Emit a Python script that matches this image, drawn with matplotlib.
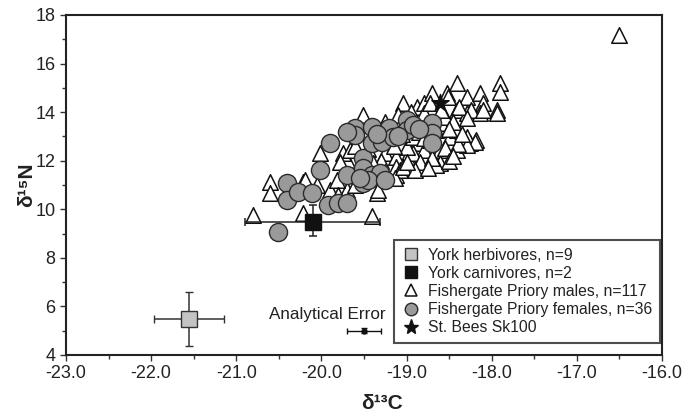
import matplotlib
matplotlib.use("Agg")
import matplotlib.pyplot as plt
from matplotlib.ticker import MultipleLocator, FormatStrFormatter
from matplotlib.lines import Line2D

plt.rcParams['font.family'] = ['Liberation Sans', 'DejaVu Sans']

# Fishergate Priory males (d13C, d15N)
male_c = [-20.80, -20.22, -19.41, -20.60, -20.60, -20.22, -20.02, -19.90, -19.70, -19.70,
          -19.35, -19.51, -19.75, -19.82, -19.12, -19.25, -19.04, -18.88, -18.80, -18.70,
          -18.41, -18.53, -18.29, -18.14, -18.10, -17.90, -17.90, -17.94, -18.41, -18.29,
          -18.14, -18.61, -18.41, -18.25, -18.18, -18.61, -18.88, -18.80, -19.00, -19.12,
          -19.12, -18.49, -18.80, -18.76, -18.51, -18.24, -18.10, -17.94, -18.39, -18.29,
          -18.72, -18.41, -18.29, -18.20, -18.72, -18.92, -18.59, -18.29, -18.55, -18.84,
          -19.08, -19.14, -19.31, -19.21, -19.66, -19.78, -19.04, -20.19, -19.33, -19.00,
          -18.92, -18.65, -19.35, -19.25, -19.10, -18.95, -18.85, -19.05, -19.30, -19.45,
          -19.60, -19.40, -18.70, -18.50, -18.40, -18.65, -18.55, -18.45, -18.90, -18.75,
          -19.20, -19.55, -19.60, -19.80, -20.05, -18.35, -19.45, -18.95, -18.60, -18.50,
          -19.15, -18.80, -19.00, -18.45, -19.25, -16.50]
male_n = [9.76, 9.85, 9.72, 11.13, 10.66, 11.13, 12.32, 10.79, 12.03, 10.79,
          10.66, 13.88, 12.30, 11.20, 11.41, 12.30, 14.36, 14.22, 14.36, 14.77,
          15.19, 14.77, 14.63, 14.77, 14.36, 15.19, 14.84, 14.09, 14.09, 13.95,
          13.95, 12.44, 12.44, 12.72, 12.85, 11.89, 12.72, 12.44, 12.16, 12.16,
          11.75, 12.99, 13.95, 13.54, 14.63, 14.09, 14.09, 13.95, 14.22, 13.74,
          14.36, 13.26, 12.99, 12.78, 12.85, 12.30, 13.54, 12.65, 12.51, 11.96,
          11.62, 11.27, 11.27, 12.85, 12.44, 11.96, 11.75, 11.20, 10.79, 12.58,
          12.99, 11.82, 12.90, 13.60, 13.90, 13.70, 13.20, 13.10, 12.00, 12.50,
          12.60, 11.90, 12.10, 12.00, 12.70, 13.25, 13.80, 13.60, 11.60, 11.70,
          13.30, 11.70, 11.00, 10.60, 11.00, 13.10, 13.20, 14.00, 14.10, 13.30,
          12.60, 12.95, 11.95, 12.20, 11.55, 17.17]

# Fishergate Priory females
fem_c = [-19.90, -20.02, -20.41, -20.41, -20.27, -20.11, -19.92, -19.80, -19.70, -20.51,
         -19.70, -19.51, -19.51, -19.51, -19.41, -19.31, -19.61, -19.61, -19.41, -19.41,
         -19.29, -19.21, -19.16, -19.00, -19.00, -18.92, -18.70, -18.70, -18.70, -19.45,
         -19.55, -19.35, -19.70, -19.10, -19.25, -18.85]
fem_n = [12.72, 11.62, 11.07, 10.38, 10.72, 10.68, 10.18, 10.27, 10.27, 9.08,
         11.41, 12.10, 11.69, 11.07, 11.41, 11.48, 13.33, 13.06, 13.40, 12.72,
         12.78, 13.33, 12.99, 13.67, 13.26, 13.47, 13.54, 13.13, 12.72, 11.20,
         11.30, 13.10, 13.20, 13.00, 11.20, 13.30]

# York fauna means with 1 sd
herb_c, herb_n, herb_sc, herb_sn = -21.56, 5.48, 0.41, 1.1
carn_c, carn_n = -20.10, 9.48
carn_xerr = [[0.80], [0.79]]
carn_yerr = [[0.58], [0.69]]

star_c, star_n = -18.61, 14.37

# analytical error marker
ae_c, ae_n, ae_sc, ae_sn = -19.5, 5.0, 0.2, 0.1

fig = plt.figure(figsize=(6.85, 4.2), dpi=100)
ax = fig.add_axes([0.0964, 0.1548, 0.87, 0.8095])

ax.scatter(male_c, male_n, marker='^', s=125, facecolor='white', edgecolor='#111111',
           linewidth=1.1, zorder=3)
ax.scatter(fem_c, fem_n, marker='o', s=170, facecolor='#9a9a9a', edgecolor='#2a2a2a',
           linewidth=1.0, zorder=4)

ax.errorbar(carn_c, carn_n, xerr=carn_xerr, yerr=carn_yerr, fmt='s', ms=11,
            mfc='#111111', mec='#111111', ecolor='#222222', elinewidth=1.1,
            capsize=3, capthick=1.1, zorder=5)
ax.errorbar(herb_c, herb_n, xerr=herb_sc, yerr=herb_sn, fmt='s', ms=11,
            mfc='#c4c4c4', mec='#333333', mew=1.0, ecolor='#333333', elinewidth=1.1,
            capsize=3, capthick=1.1, zorder=5)
ax.scatter([star_c], [star_n], marker='*', s=170, color='#111111', zorder=6)

ax.errorbar(ae_c, ae_n, xerr=ae_sc, yerr=ae_sn, fmt='o', ms=3.5, color='#111111',
            elinewidth=1.0, capsize=2.5, capthick=1.0, zorder=5)
ax.text(ae_c + 0.25, ae_n + 0.68, 'Analytical Error', ha='right', va='center',
        fontsize=12.3, color='#222222')

ax.set_xlim(-23, -16)
ax.set_ylim(4, 18)
ax.xaxis.set_major_locator(MultipleLocator(1.0))
ax.xaxis.set_minor_locator(MultipleLocator(0.5))
ax.xaxis.set_major_formatter(FormatStrFormatter('%.1f'))
ax.yaxis.set_major_locator(MultipleLocator(2))
ax.yaxis.set_minor_locator(MultipleLocator(1))
ax.tick_params(which='both', direction='out', width=1.0, colors='#333333',
               labelsize=13, labelcolor='#222222')
ax.tick_params(which='major', length=4)
ax.tick_params(which='minor', length=3)
for sp in ax.spines.values():
    sp.set_linewidth(1.5)
    sp.set_color('#222222')

ax.set_xlabel('δ¹³C', fontsize=15, fontweight='bold', color='#222222')
ax.set_ylabel('δ¹⁵N', fontsize=15, fontweight='bold', color='#222222')
ax.xaxis.set_label_coords(0.53, -0.115)
ax.yaxis.set_label_coords(-0.05, 0.5)

handles = [
    Line2D([], [], ls='', marker='s', ms=9, mfc='#c4c4c4', mec='#333333'),
    Line2D([], [], ls='', marker='s', ms=9, mfc='#111111', mec='#111111'),
    Line2D([], [], ls='', marker='^', ms=9, mfc='white', mec='#111111', mew=1.1),
    Line2D([], [], ls='', marker='o', ms=9, mfc='#9a9a9a', mec='#2a2a2a'),
    Line2D([], [], ls='', marker='*', ms=11, mfc='#111111', mec='#111111'),
]
labels = ['York herbivores, n=9', 'York carnivores, n=2',
          'Fishergate Priory males, n=117', 'Fishergate Priory females, n=36',
          'St. Bees Sk100']
leg = ax.legend(handles, labels, loc='lower right', bbox_to_anchor=(0.997, 0.035),
                fontsize=11.3, frameon=True, fancybox=False, handletextpad=0.45,
                handlelength=1.25, labelspacing=0.2, borderpad=0.5,
                borderaxespad=0.0)
leg.get_frame().set_edgecolor('#222222')
leg.get_frame().set_linewidth(1.5)
for t in leg.get_texts():
    t.set_color('#222222')
leg.set_zorder(10)

fig.savefig('out.png', dpi=100)
